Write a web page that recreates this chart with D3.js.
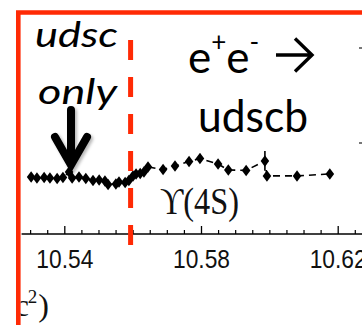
<!DOCTYPE html>
<html>
<head>
<meta charset="utf-8">
<script src="https://cdn.jsdelivr.net/npm/d3@7"></script>
<style>
  html, body { margin: 0; padding: 0; background: #fff; }
  svg { display: block; }
</style>
</head>
<body>
<svg id="chart" width="362" height="325"></svg>
<script>
// Energy scan around the Upsilon(4S): centre-of-mass energy (GeV) and visible hadronic rate (arb. units)
const energy = [
  10.5303, 10.5320, 10.5341, 10.5358, 10.5379, 10.5396, 10.5414, 10.5423, 10.5443,
  10.5463, 10.5484, 10.5502, 10.5519, 10.5528, 10.5551, 10.5560, 10.5578, 10.5589,
  10.5601, 10.5610, 10.5622, 10.5633, 10.5645, 10.5689, 10.5724, 10.5765, 10.5797,
  10.5850, 10.5880, 10.5932, 10.5987, 10.5993, 10.6081, 10.6177
];
const rate = [
  2.59, 2.55, 2.57, 2.55, 2.52, 2.57, 2.82, 2.55, 2.59,
  2.52, 2.43, 2.45, 2.41, 2.25, 2.27, 2.36, 2.34, 2.43,
  2.64, 2.73, 2.75, 2.82, 3.05, 2.93, 3.09, 3.30, 3.43,
  3.18, 2.91, 2.89, 3.32, 2.64, 2.64, 2.73
];
const rateErr = [
  0, 0, 0, 0, 0, 0, 0, 0, 0,
  0, 0, 0, 0, 0, 0, 0, 0, 0,
  0, 0, 0, 0, 0, 0, 0, 0, 0,
  0, 0, 0, 0.45, 0, 0, 0
];

// Axis ticks and labels
const majorTicks = [10.54, 10.58, 10.62];
const majorLabels = ["10.54", "10.58", "10.62"];
const minorTicks = [10.525, 10.53, 10.535, 10.545, 10.55, 10.555, 10.56, 10.565, 10.57, 10.575,
                    10.585, 10.59, 10.595, 10.60, 10.605, 10.61, 10.615, 10.625];
const viewRange = [10.5275, 10.628];

// B-Bbar open-flavour threshold
const bbThreshold = 10.5594;

const svg = d3.select("#chart");
const RED = "#ff2a05";

const x = d3.scaleLinear().domain([10.54, 10.62]).range([64.3, 337.7]);
const y = d3.scaleLinear().domain([0, 10]).range([234, 14]);

// everything of the plot lives inside the red frame
const defs = svg.append("defs");
defs.append("clipPath").attr("id", "inner")
  .append("rect").attr("x", 20.5).attr("y", 14.5).attr("width", 342).attr("height", 311);

const filt = defs.append("filter").attr("id", "shadow")
  .attr("x", "-30%").attr("y", "-30%").attr("width", "160%").attr("height", "160%");
filt.append("feDropShadow").attr("dx", 2).attr("dy", 2).attr("stdDeviation", 1.6)
  .attr("flood-color", "#000").attr("flood-opacity", 0.28);

const plot = svg.append("g").attr("clip-path", "url(#inner)");

// horizontal axis line
plot.append("line")
  .attr("x1", x(viewRange[0])).attr("x2", x(viewRange[1]))
  .attr("y1", y(0)).attr("y2", y(0))
  .attr("stroke", "#000").attr("stroke-width", 1.6);

// minor ticks (pointing up)
plot.append("g").attr("transform", `translate(0,${y(0)})`)
  .call(d3.axisBottom(x).tickValues(minorTicks).tickSize(-4).tickSizeOuter(0).tickFormat(""))
  .call(g => g.select(".domain").remove())
  .call(g => g.selectAll(".tick line").attr("stroke", "#000").attr("stroke-width", 1.2));

// major ticks with labels
plot.append("g").attr("transform", `translate(0,${y(0)})`)
  .call(d3.axisBottom(x).tickValues(majorTicks).tickSize(-8).tickSizeOuter(0).tickPadding(16)
    .tickFormat((d, i) => majorLabels[i]))
  .call(g => g.select(".domain").remove())
  .call(g => g.selectAll(".tick line").attr("stroke", "#000").attr("stroke-width", 1.3))
  .call(g => g.selectAll(".tick text")
    .attr("fill", "#111")
    .attr("font-family", "'Liberation Sans', Arial, sans-serif")
    .attr("font-size", 25)
    .attr("textLength", 57)
    .attr("lengthAdjust", "spacingAndGlyphs"));

// axis title fragment
const ttl = plot.append("text")
  .attr("x", 49).attr("y", 316)
  .attr("text-anchor", "end")
  .attr("font-family", "'Liberation Serif', 'Times New Roman', serif")
  .attr("font-size", 32).attr("fill", "#111");
ttl.append("tspan").text("E (GeV/c");
ttl.append("tspan").attr("font-size", 19).attr("dy", -13).attr("dx", -1).text("2");
ttl.append("tspan").attr("dy", 13).attr("dx", 1).text(")");

// dashed connecting line through the scan points
const line = d3.line().x((d, i) => x(energy[i])).y((d, i) => y(rate[i]));
plot.append("path")
  .datum(rate)
  .attr("d", line)
  .attr("fill", "none")
  .attr("stroke", "#000")
  .attr("stroke-width", 1.6)
  .attr("stroke-dasharray", "7,5");

// error bars
plot.append("g").selectAll("line")
  .data(rate.map((r, i) => i).filter(i => rateErr[i] > 0))
  .join("line")
  .attr("x1", i => x(energy[i])).attr("x2", i => x(energy[i]))
  .attr("y1", i => y(rate[i] + rateErr[i])).attr("y2", i => y(rate[i] - rateErr[i]))
  .attr("stroke", "#000").attr("stroke-width", 1.6);

// scan points
const sym = d3.symbol().type(d3.symbolDiamond).size(38);
plot.append("g").selectAll("path")
  .data(rate)
  .join("path")
  .attr("d", sym)
  .attr("transform", (d, i) => `translate(${x(energy[i])},${y(d)}) scale(1.3,1)`)
  .attr("fill", "#000");

// Upsilon(4S) label
plot.append("text")
  .attr("x", 160).attr("y", 214)
  .attr("font-family", "'Liberation Serif', 'DejaVu Serif', serif")
  .attr("font-size", 37).attr("fill", "#111")
  .attr("textLength", 79).attr("lengthAdjust", "spacingAndGlyphs")
  .text("ϒ(4S)");

// threshold marker
svg.append("line")
  .attr("x1", x(bbThreshold)).attr("x2", x(bbThreshold))
  .attr("y1", 40).attr("y2", 245)
  .attr("stroke", RED).attr("stroke-width", 5)
  .attr("stroke-dasharray", "20,17");

// annotations
const ann = svg.append("g").attr("font-family", "Lato, 'Open Sans', sans-serif").attr("fill", "#000");
ann.append("text").attr("x", 35).attr("y", 47)
  .attr("font-size", 34).attr("font-style", "italic")
  .attr("textLength", 83).attr("lengthAdjust", "spacingAndGlyphs")
  .text("udsc");
ann.append("text").attr("x", 38).attr("y", 104)
  .attr("font-size", 34).attr("font-style", "italic")
  .attr("textLength", 79).attr("lengthAdjust", "spacingAndGlyphs")
  .text("only");

const react = ann.append("text").attr("x", 188).attr("y", 73).attr("font-size", 44);
react.append("tspan").text("e");
react.append("tspan").attr("font-size", 26).attr("dy", -22).text("+");
react.append("tspan").attr("dy", 22).text("e");
react.append("tspan").attr("font-size", 26).attr("dy", -22).text("-");

// reaction arrow
svg.append("path")
  .attr("d", "M276,55 L311,55 M295,38.5 L312,55 L295,71.5")
  .attr("fill", "none").attr("stroke", "#000").attr("stroke-width", 3.4)
  .attr("stroke-linejoin", "miter").attr("stroke-linecap", "butt");

ann.append("text").attr("x", 198).attr("y", 132)
  .attr("font-size", 44)
  .attr("textLength", 110).attr("lengthAdjust", "spacingAndGlyphs")
  .text("udscb");

// arrow pointing at the continuum data
svg.append("path")
  .attr("d", "M71,110 L71,160 M55,137 L71,165 L87,137")
  .attr("fill", "none").attr("stroke", "#000").attr("stroke-width", 8)
  .attr("stroke-linecap", "round").attr("stroke-linejoin", "miter")
  .attr("filter", "url(#shadow)");

// small marks at the right edge
svg.append("g").selectAll("rect")
  .data([47, 142])
  .join("rect")
  .attr("x", 359).attr("y", d => d).attr("width", 3).attr("height", 2)
  .attr("fill", "#777");

// red frame
svg.append("path")
  .attr("d", "M18.3,325 L18.3,12.5 L362,12.5")
  .attr("fill", "none").attr("stroke", RED).attr("stroke-width", 4.6);
</script>
</body>
</html>
